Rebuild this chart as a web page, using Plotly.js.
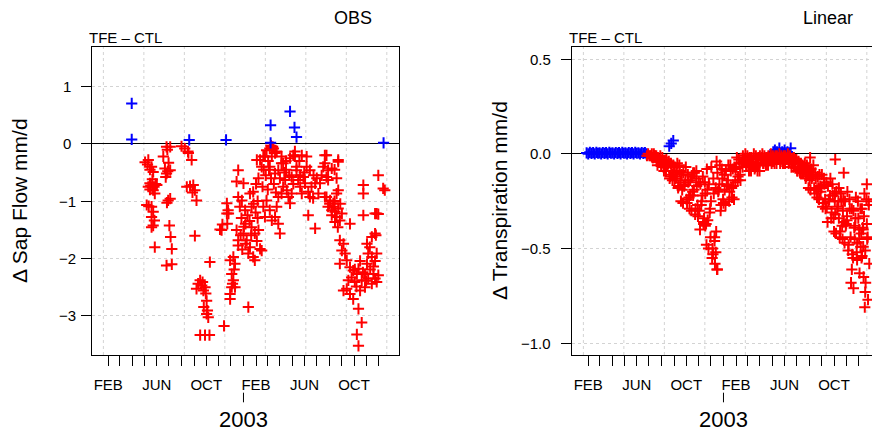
<!DOCTYPE html>
<html>
<head>
<meta charset="utf-8">
<script src="https://cdn.plot.ly/plotly-3.0.1.min.js"></script>
<style>html,body{margin:0;padding:0;background:#fff;}#chart{width:872px;height:432px;}</style>
</head>
<body>
<div id="chart"></div>
<script>
// x values: days since 2002-01-01
const monthTickDays = [31,59,90,120,151,181,212,243,273,304,334,365,396,424,455,485,516,546,577,608,638,669,699];
const monthTickLabels = ['FEB','','','','JUN','','','','OCT','','','','FEB','','','','JUN','','','','OCT','',''];
const gridDays = [19,119,219,319,419,519,619,719];
const yearDay = 365;
const yearLabel = '2003';
const yTicksLeft = [-3,-2,-1,0,1];
const yTickLabelsLeft = ['\u22123','\u22122','\u22121','0','1'];
const yTicksRight = [-1,-0.5,0,0.5];
const yTickLabelsRight = ['\u22121.0','\u22120.5','0.0','0.5'];

// Left panel (OBS)
const lRedDays = [
 122,130,138,142,134,130,142,151,146,126,138,142,138,142,138,146,134,140,136,144,148,128,134,131,145,140,
 167,175,184,171,175,184,179,184,182,185,188,175,188,177,173,180,178,176,
 212,220,229,237,225,241,245,249,245,233,228,239,
 258,262,270,266,249,274,267,274,278,258,270,281,317,282,253,264,272,276,307,313,325,328,311,324,324,327,
 332,340,344,336,340,336,332,332,344,338,342,352,348,365,352,361,356,369,348,352,352,365,373,381,389,393,377,385,393,402,406,
 410,377,381,389,402,406,410,418,422,414,418,430,435,443,451,455,447,360,370,375,385,395,400,398,384,366,358,
 362,370,380,390,396,412,420,425,428,415,400,398,
 430,439,443,435,430,443,451,459,468,463,472,476,484,480,492,496,484,459,451,414,422,435,447,459,463,488,466,455,470,478,
 488,440,445,433,426,470,480,433,437,
 492,509,496,505,500,513,521,529,517,525,533,542,554,550,529,509,570,566,562,574,583,599,570,574,525,542,566,521,566,599,
 503,515,538,546,558,590,595,505,537,
 570,579,587,574,583,591,599,595,583,603,591,595,599,587,608,598,628,578,590,604,
 603,612,608,616,603,620,628,636,645,632,649,657,640,624,620,628,636,649,657,645,649,665,670,673,677,682,686,690,673,682,
 694,694,690,682,670,665,653,612,640,660,668,678,698,653,644,686,690,
 661,661,698,710,661,690,698,714,694,692
];
const lRedVals = [
 -0.32,-0.28,-0.40,-0.49,-0.69,-0.75,-0.81,-0.72,-0.87,-1.07,-1.10,-1.19,-1.28,-1.43,-1.46,-1.81,-0.80,-0.76,-0.73,-0.75,-0.70,-0.36,-0.45,-1.09,-1.34,-0.62,
 -0.22,-0.05,-0.05,-0.43,-0.52,-0.46,-0.99,-0.96,-1.43,-1.63,-1.84,-2.13,-2.11,-0.10,-0.58,-0.33,-0.48,-1.03,
 -0.04,-0.08,-0.16,-0.28,-0.75,-0.72,-0.81,-0.99,-1.61,-0.74,-0.13,-0.85,
 -2.39,-2.48,-2.51,-2.57,-2.54,-2.75,-2.86,-2.98,-3.04,-3.35,-3.35,-3.35,-3.19,-2.07,-2.45,-2.42,-2.62,-2.92,-1.50,-1.41,-1.40,-1.22,-1.51,-1.04,-1.22,-1.16,
 -2.04,-1.98,-2.10,-2.28,-2.39,-2.51,-2.63,-2.72,-2.51,-2.45,-2.20,-0.46,-0.66,-0.69,-0.93,-0.99,-1.10,-1.16,-1.51,-1.69,-1.78,-1.57,-1.69,-1.81,-1.98,-2.04,-1.92,-1.46,-1.57,-1.51,-1.84,
 -1.87,-2.86,-0.87,-0.84,-0.60,-0.28,-0.40,-0.22,-0.99,-1.10,-1.28,-1.16,-1.34,-1.28,-1.40,-1.57,-1.10,-1.30,-1.40,-1.25,-1.10,-1.20,-1.30,-1.70,-1.60,-1.45,-1.60,
 -1.85,-1.75,-1.35,-1.05,-0.70,-0.75,-0.55,-0.80,-0.45,-0.45,-1.00,-0.28,
 -0.08,-0.08,-0.16,-0.22,-0.40,-0.52,-0.46,-0.34,-0.63,-0.75,-0.81,-0.93,-0.87,-1.04,-0.22,-0.40,-0.58,-0.87,-0.93,-0.22,-0.11,-0.08,-0.13,-0.22,-0.34,-0.20,-0.50,-0.60,-0.45,-0.55,
 -0.70,-0.70,-0.85,-0.60,-0.30,-0.30,-0.25,-0.03,-0.05,
 -0.13,-0.20,-0.46,-0.55,-0.63,-0.58,-0.40,-0.46,-0.69,-0.84,-0.75,-0.69,-0.69,-0.87,-0.93,-0.87,-0.20,-0.34,-0.40,-0.46,-0.43,-0.28,-0.58,-0.63,-1.25,-1.48,-0.93,-0.22,-0.20,-0.31,
 -0.30,-0.50,-0.55,-0.60,-0.55,-0.45,-0.60,-0.75,-0.95,
 -0.93,-0.99,-1.04,-1.10,-1.16,-1.19,-1.13,-1.28,-1.25,-1.34,-1.37,-0.87,-0.81,-1.10,-1.22,-1.46,-1.40,-1.05,-1.00,-1.05,
 -1.69,-1.75,-1.87,-1.92,-2.10,-2.04,-2.16,-2.22,-2.28,-2.34,-2.19,-2.39,-2.42,-2.39,-2.54,-2.63,-2.72,-2.89,-3.13,-3.34,-3.54,-2.28,-2.10,-1.92,-1.81,-1.98,-2.28,-2.36,-2.36,-2.45,
 -2.42,-1.92,-1.57,-1.63,-1.75,-2.51,-2.57,-2.57,-2.20,-2.25,-2.40,-2.20,-2.30,-2.05,-2.50,-2.15,-2.05,
 -0.72,-0.87,-0.55,-0.78,-1.25,-1.22,-1.23,-0.81,-1.22,-1.60
];
const lBlueDays = [89,89,231,322,432,432,480,491,496,711];
const lBlueVals = [0.71,0.08,0.07,0.07,0.33,0.02,0.57,0.29,0.12,0.02];

// Right panel (Linear)
const rRedDays = [
 176,179,182,
 185,188,191,194,197,200,203,206,209,212,215,218,221,224,227,230,233,236,239,242,245,248,251,254,257,
 260,263,266,269,272,275,278,281,284,287,290,293,296,299,302,305,308,311,314,317,320,323,326,329,332,
 335,338,341,344,347,350,353,356,359,362,365,368,371,374,377,380,383,386,389,392,395,398,401,404,407,
 410,413,416,419,422,425,428,431,434,437,440,443,446,449,452,455,458,461,464,467,470,473,476,479,482,
 485,488,491,494,497,500,503,506,509,512,515,518,521,524,527,530,533,536,539,542,545,548,551,554,557,
 560,563,566,569,572,575,578,581,584,587,590,593,596,599,602,605,608,611,614,617,620,623,626,629,632,
 635,638,641,644,647,650,653,656,659,662,665,668,671,674,677,680,683,686,689,692,695,698,701,704,707,
 710,713,716,719,722,725,
 187,190,193,196,199,202,205,208,211,214,217,220,223,226,229,232,235,238,241,244,247,250,253,256,259,
 262,265,268,271,274,277,280,283,286,289,292,295,298,301,304,307,310,313,316,319,322,325,328,331,334,
 337,340,343,346,349,352,355,358,361,364,367,370,373,376,379,382,385,388,391,394,397,400,403,406,409,
 412,415,418,421,424,427,430,433,436,439,442,445,448,451,454,457,460,463,466,469,472,475,478,481,484,
 487,490,493,496,499,502,505,508,511,514,517,520,523,526,529,532,535,538,541,544,547,550,553,556,559,
 562,565,568,571,574,577,580,583,586,589,592,595,598,601,604,607,610,613,616,619,622,625,628,631,634,
 637,640,643,646,649,652,655,658,661,664,667,670,673,676,679,682,685,688,691,694,697,700,703,706,709,
 712,715,718,721,724,
 290,298,324,348,579,641,662,719,723,714,686,682,707,711,715,333,343,339,346,350,320,316,700,690,705,670,660,650,640,695,720,710
];
const rRedVals = [
 -0.01,0.00,-0.01,
 -0.01,0.00,-0.02,-0.01,-0.02,-0.04,-0.02,-0.04,-0.01,-0.05,-0.04,-0.09,-0.07,-0.03,-0.06,-0.04,-0.12,-0.06,-0.14,-0.10,-0.07,-0.12,-0.05,-0.17,-0.09,
 -0.25,-0.19,-0.10,-0.16,-0.07,-0.26,-0.15,-0.29,-0.22,-0.12,-0.22,-0.10,-0.29,-0.17,-0.33,-0.30,-0.16,-0.25,-0.12,-0.34,-0.21,-0.48,-0.35,-0.16,-0.29,
 -0.07,-0.50,-0.21,-0.58,-0.41,-0.10,-0.19,-0.06,-0.27,-0.13,-0.26,-0.19,-0.09,-0.16,-0.06,-0.20,-0.09,-0.23,-0.17,-0.07,-0.08,-0.02,-0.12,-0.05,-0.14,
 -0.05,-0.01,-0.04,0.00,-0.06,-0.03,-0.09,-0.06,-0.02,-0.05,0.00,-0.07,-0.03,-0.09,-0.06,-0.01,-0.03,0.00,-0.05,-0.02,-0.06,-0.04,-0.01,-0.03,0.00,
 -0.04,-0.02,-0.05,-0.03,-0.01,-0.03,0.00,-0.04,-0.02,-0.05,-0.03,-0.01,-0.03,0.00,-0.04,-0.03,-0.07,-0.05,-0.02,-0.04,-0.03,-0.09,-0.05,-0.10,-0.08,
 -0.06,-0.09,-0.05,-0.12,-0.07,-0.18,-0.14,-0.08,-0.12,-0.06,-0.21,-0.13,-0.23,-0.18,-0.11,-0.20,-0.11,-0.26,-0.16,-0.29,-0.28,-0.17,-0.24,-0.13,-0.31,
 -0.22,-0.41,-0.32,-0.20,-0.28,-0.18,-0.41,-0.25,-0.45,-0.36,-0.25,-0.37,-0.20,-0.48,-0.29,-0.68,-0.53,-0.30,-0.45,-0.23,-0.56,-0.34,-0.63,-0.49,-0.29,
 -0.49,-0.21,-0.68,-0.37,-0.77,-0.58,
 -0.01,-0.02,0.00,-0.01,-0.01,-0.06,-0.04,-0.03,-0.06,-0.02,-0.07,-0.04,-0.09,-0.06,-0.05,-0.13,-0.05,-0.11,-0.06,-0.14,-0.13,-0.10,-0.18,-0.06,-0.15,
 -0.11,-0.26,-0.17,-0.14,-0.24,-0.11,-0.23,-0.14,-0.30,-0.20,-0.19,-0.32,-0.13,-0.27,-0.15,-0.40,-0.27,-0.22,-0.37,-0.15,-0.37,-0.19,-0.50,-0.31,-0.25,
 -0.55,-0.13,-0.44,-0.18,-0.61,-0.20,-0.16,-0.30,-0.08,-0.24,-0.11,-0.27,-0.17,-0.14,-0.25,-0.06,-0.18,-0.08,-0.24,-0.15,-0.07,-0.14,-0.03,-0.11,-0.05,
 -0.07,-0.04,-0.03,-0.06,-0.01,-0.06,-0.02,-0.09,-0.05,-0.04,-0.08,-0.01,-0.06,-0.02,-0.09,-0.03,-0.02,-0.05,-0.01,-0.04,-0.02,-0.06,-0.03,-0.02,-0.05,
 -0.01,-0.04,-0.01,-0.05,-0.03,-0.02,-0.05,-0.01,-0.04,-0.01,-0.05,-0.03,-0.02,-0.05,-0.01,-0.05,-0.03,-0.07,-0.04,-0.03,-0.09,-0.04,-0.08,-0.05,-0.10,
 -0.10,-0.08,-0.13,-0.06,-0.11,-0.09,-0.19,-0.13,-0.11,-0.18,-0.10,-0.19,-0.12,-0.24,-0.17,-0.18,-0.28,-0.13,-0.24,-0.15,-0.36,-0.25,-0.22,-0.34,-0.16,
 -0.34,-0.21,-0.42,-0.29,-0.25,-0.44,-0.21,-0.38,-0.24,-0.47,-0.38,-0.33,-0.51,-0.24,-0.44,-0.29,-0.55,-0.39,-0.34,-0.52,-0.25,-0.45,-0.29,-0.55,-0.39,
 -0.33,-0.51,-0.24,-0.44,-0.27,
 -0.10,-0.09,-0.08,-0.04,-0.02,-0.03,-0.10,-0.16,-0.25,-0.81,-0.71,-0.61,-0.54,-0.65,-0.73,-0.44,-0.46,-0.53,-0.52,-0.61,-0.38,-0.36,-0.40,-0.38,-0.42,-0.35,-0.30,-0.34,-0.25,-0.47,-0.45,-0.40
];
const rBlueDays = [
 27,31,35,39,43,47,51,55,59,63,67,71,75,79,83,87,91,95,99,103,107,111,115,119,123,127,131,135,139,143,147,151,155,159,163,167,171,175,
 231,236,241,
 488,492,497,503,510,516,523,531
];
const rBlueVals = [
 0.005,0,0.008,0.002,0.006,0,0.008,0.003,0.005,0,0.007,0.002,0.006,0,0.008,0.003,0.005,0,0.007,0.002,0.006,0,0.008,0.003,0.005,0,0.007,0.002,0.006,0,0.008,0.003,0.005,0,0.007,0.002,0.006,0,
 0.04,0.055,0.07,
 0.01,0.02,0.01,0.03,0.01,0.02,0.01,0.03
];

const W = 872, H = 432;
const FONT = 'Liberation Sans, Arial, sans-serif';
const px = v => v / W;
const py = v => 1 - v / H;

function mk(c){ return {symbol:'cross-thin-open', size:8, color:c, line:{width:2, color:c}}; }

const traces = [
  {x:lRedDays, y:lRedVals, xaxis:'x', yaxis:'y', type:'scatter', mode:'markers', marker:mk('#ff0000'), hoverinfo:'skip'},
  {x:lBlueDays, y:lBlueVals, xaxis:'x', yaxis:'y', type:'scatter', mode:'markers', marker:mk('#0000ff'), hoverinfo:'skip'},
  {x:rBlueDays, y:rBlueVals, xaxis:'x2', yaxis:'y2', type:'scatter', mode:'markers', marker:mk('#0000ff'), hoverinfo:'skip'},
  {x:rRedDays, y:rRedVals, xaxis:'x2', yaxis:'y2', type:'scatter', mode:'markers', marker:mk('#ff0000'), hoverinfo:'skip'}
];

function xAx(domain, range, anchor){
  return {domain:domain, range:range, anchor:anchor, tickmode:'array', tickvals:monthTickDays, ticktext:monthTickLabels,
    ticks:'outside', ticklen:10, tickwidth:1, tickcolor:'#000', showline:true, linecolor:'#000', linewidth:1, mirror:true,
    showgrid:false, zeroline:false, tickfont:{family:FONT, size:15, color:'#000'}, ticklabelstandoff:6, fixedrange:true};
}
function yAx(domain, range, anchor, ticks, mirror){
  return {domain:domain, range:range, anchor:anchor, tickmode:'array', tickvals:ticks, showticklabels:false,
    ticks:'outside', ticklen:10, tickwidth:1, tickcolor:'#000', showline:true, linecolor:'#000', linewidth:1, mirror:mirror,
    showgrid:true, gridcolor:'#d3d3d3', gridwidth:1, griddash:'dot', zeroline:true, zerolinecolor:'#000', zerolinewidth:1, fixedrange:true};
}

const yDom = [py(355), py(47)];
const layout = {
  width:W, height:H, margin:{l:0,r:0,t:0,b:0,pad:0}, showlegend:false,
  paper_bgcolor:'#fff', plot_bgcolor:'#fff', font:{family:FONT, color:'#000'},
  xaxis: xAx([px(92), px(399)], [-9.1, 749.1], 'y'),
  yaxis: yAx(yDom, [-3.7, 1.7], 'x', yTicksLeft, true),
  xaxis2: xAx([px(572), 1], [-9.1, 731.8], 'y2'),
  yaxis2: yAx(yDom, [-1.062, 0.564], 'x2', yTicksRight, false),
  shapes: [], annotations: []
};

[['x','y'],['x2','y2']].forEach(([xa, ya]) => {
  gridDays.forEach(g => layout.shapes.push({type:'line', xref:xa, yref:ya+' domain', x0:g, x1:g, y0:0, y1:1,
    line:{color:'#d3d3d3', width:1, dash:'dot'}, layer:'below'}));
  layout.shapes.push({type:'line', xref:xa, yref:'paper', x0:yearDay, x1:yearDay, y0:py(402.3), y1:py(392.7), line:{color:'#000', width:1}});
  layout.annotations.push({xref:xa, yref:'paper', x:yearDay, y:py(419), text:yearLabel, showarrow:false, xanchor:'center', yanchor:'middle',
    font:{family:FONT, size:22, color:'#000'}});
});

yTicksLeft.forEach((v,i) => layout.annotations.push({xref:'paper', yref:'y', x:px(67), y:v, text:yTickLabelsLeft[i], showarrow:false,
  xanchor:'center', yanchor:'middle', font:{family:FONT, size:15, color:'#000'}}));
yTicksRight.forEach((v,i) => layout.annotations.push({xref:'paper', yref:'y2', x:px(553), y:v, text:yTickLabelsRight[i], showarrow:false,
  xanchor:'right', yanchor:'middle', font:{family:FONT, size:15, color:'#000'}}));

const txt = (x, y, t, size, xanchor, angle) => ({xref:'paper', yref:'paper', x:px(x), y:py(y), text:t, showarrow:false,
  xanchor:xanchor, yanchor:'middle', textangle:angle||0, font:{family:FONT, size:size, color:'#000'}});
layout.annotations.push(txt(352.5, 18, 'OBS', 18, 'center'));
layout.annotations.push(txt(828, 18, 'Linear', 18, 'center'));
layout.annotations.push(txt(87, 37, 'TFE \u2013 CTL', 15, 'left'));
layout.annotations.push(txt(567, 37, 'TFE \u2013 CTL', 15, 'left'));
layout.annotations.push(txt(19, 201, '\u0394 Sap Flow mm/d', 21, 'center', -90));
layout.annotations.push(txt(499, 201, '\u0394 Transpiration mm/d', 21, 'center', -90));

Plotly.newPlot('chart', traces, layout, {staticPlot:true, displayModeBar:false});
</script>
</body>
</html>
